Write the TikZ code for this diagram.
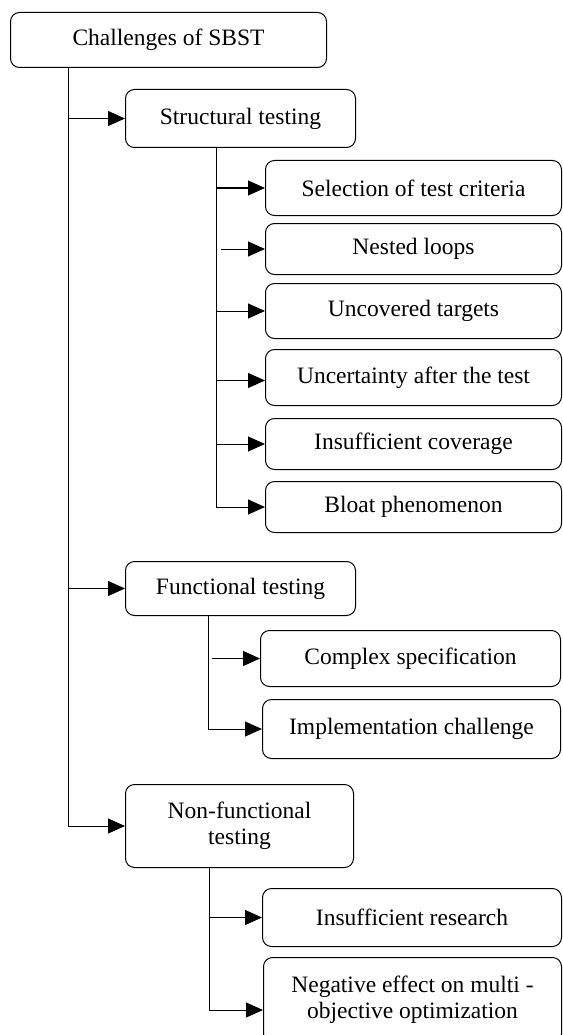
\documentclass[tikz,border=0pt]{standalone}
\usepackage{fontspec}
\setmainfont{Liberation Serif}
\usetikzlibrary{arrows.meta}
\begin{document}
\begin{tikzpicture}[x=1pt,y=-1pt,
  box/.style={draw, line width=1pt, rounded corners=9pt, anchor=north west, inner sep=0pt, align=center,
    font=\fontsize{23.5}{26}\selectfont},
  conn/.style={line width=1pt},
  arr/.style={line width=1pt, -{Triangle[length=17pt,width=15pt]}}]
\useasboundingbox (0,0) rectangle (562,1035);
\newcommand{\bx}[6]{\node[box, minimum width=#4-#2, minimum height=#5-#3] (#1) at (#2,#3) {#6};}
\bx{root}{10}{12}{326}{67}{Challenges of SBST}
\bx{struct}{125}{89}{355}{147}{Structural testing}
\bx{sel}{265}{160}{561}{215}{Selection of test criteria}
\bx{nested}{265}{223}{561}{274}{Nested loops}
\bx{uncov}{265}{283}{561}{338}{Uncovered targets}
\bx{uncert}{265}{349}{561}{405}{Uncertainty after the test}
\bx{inscov}{265}{418}{561}{469}{Insufficient coverage}
\bx{bloat}{265}{481}{561}{532}{Bloat phenomenon}
\bx{func}{125}{561}{355}{615}{Functional testing}
\bx{complex}{260}{630}{560}{686}{Complex specification}
\bx{impl}{262}{699}{560}{758}{Implementation challenge}
\bx{nonfunc}{125}{784}{353}{867}{Non-functional\\testing}
\bx{insres}{262}{888}{561}{946}{Insufficient research}
\bx{neg}{263}{957}{561}{1042}{Negative effect on multi -\\objective optimization}
\coordinate (t0) at (68,0);
\coordinate (t1) at (216,0);
\coordinate (t2) at (208,0);
\coordinate (t3) at (209,0);
% main trunk
\draw[conn] (root.south -| t0) -- (t0 |- nonfunc.west);
\draw[arr] (t0 |- struct.west) -- (struct.west);
\draw[arr] (t0 |- func.west) -- (func.west);
\draw[arr] (t0 |- nonfunc.west) -- (nonfunc.west);
% structural
\draw[conn] (struct.south -| t1) -- (t1 |- bloat.west);
\draw[arr] (t1 |- sel.west) -- (sel.west);
\draw[arr] ([xshift=5pt]t1 |- nested.west) -- (nested.west);
\draw[arr] (t1 |- uncov.west) -- (uncov.west);
\draw[arr] ([yshift=-3pt]t1 |- uncert.west) -- ([yshift=-3pt]uncert.west);
\draw[arr] (t1 |- inscov.west) -- (inscov.west);
\draw[arr] (t1 |- bloat.west) -- (bloat.west);
% functional
\draw[conn] (func.south -| t2) -- (t2 |- impl.west);
\draw[arr] ([xshift=4pt]t2 |- complex.west) -- (complex.west);
\draw[arr] (t2 |- impl.west) -- (impl.west);
% non-functional
\draw[conn] (nonfunc.south -| t3) -- ([yshift=-10pt]t3 |- neg.west);
\draw[arr] ([xshift=1pt]t3 |- insres.west) -- (insres.west);
\draw[arr] ([yshift=-10pt]t3 |- neg.west) -- ([yshift=-10pt]neg.west);
\end{tikzpicture}
\end{document}
